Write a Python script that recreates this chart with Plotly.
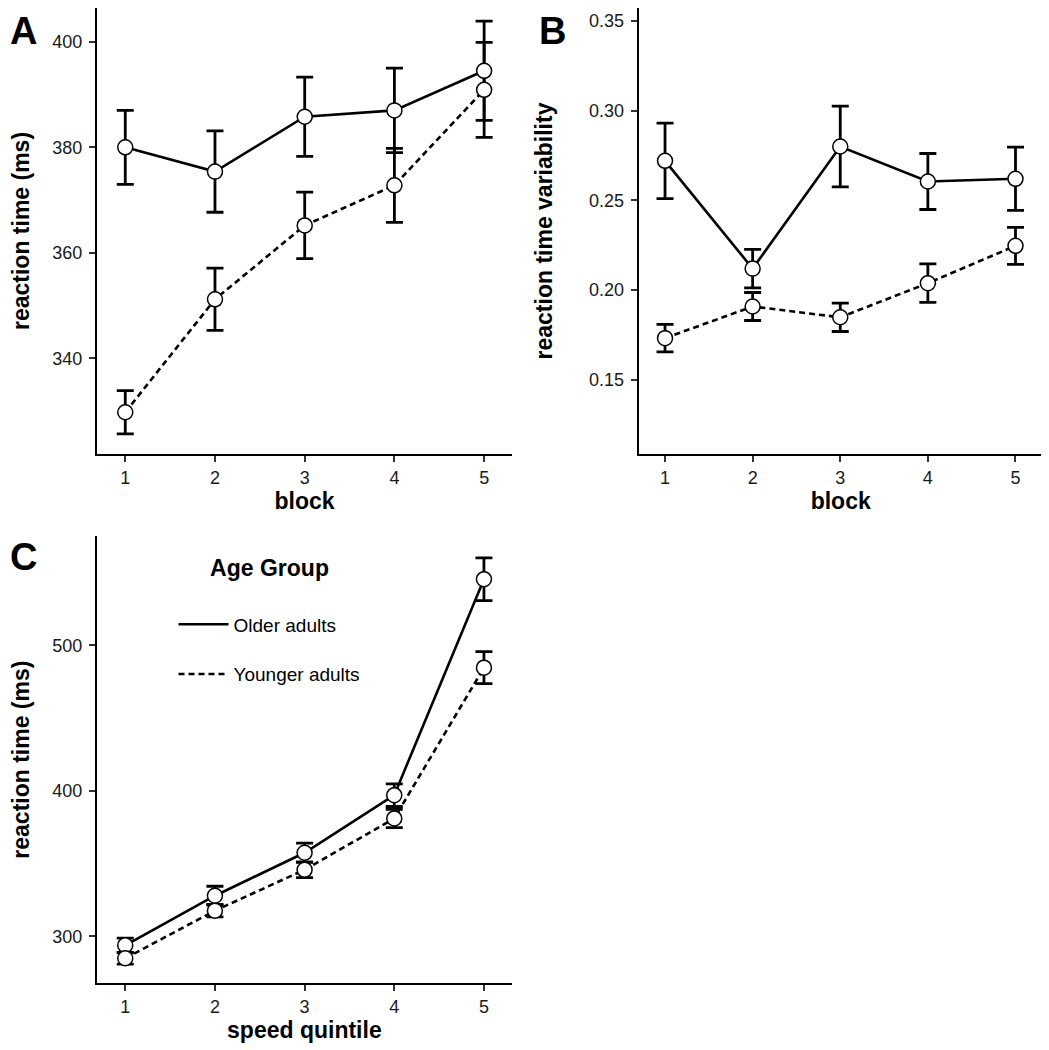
import plotly.graph_objects as go

# ---------------- data ----------------
blocks = [1, 2, 3, 4, 5]
quintiles = [1, 2, 3, 4, 5]
groups = ["Older adults", "Younger adults"]

rt_block_older = [380.0, 375.4, 385.8, 387.0, 394.5]
rt_block_older_se = [7.0, 7.7, 7.5, 8.0, 9.4]
rt_block_younger = [329.8, 351.2, 365.2, 372.8, 390.9]
rt_block_younger_se = [4.1, 5.9, 6.3, 7.0, 9.0]

var_block_older = [0.272, 0.212, 0.280, 0.2605, 0.262]
var_block_older_se = [0.021, 0.0107, 0.0225, 0.0156, 0.0176]
var_block_younger = [0.1733, 0.1909, 0.1849, 0.2039, 0.2247]
var_block_younger_se = [0.0077, 0.0078, 0.0079, 0.0107, 0.0103]

rt_quint_older = [293.8, 327.9, 357.4, 397.0, 545.4]
rt_quint_older_se = [5.0, 6.5, 6.6, 7.8, 14.7]
rt_quint_younger = [284.9, 317.6, 345.7, 381.0, 484.6]
rt_quint_younger_se = [4.0, 4.3, 5.4, 6.3, 11.0]

ticks_A = [340, 360, 380, 400]
ticks_B = [0.15, 0.20, 0.25, 0.30, 0.35]
ticks_B_text = ["0.15", "0.20", "0.25", "0.30", "0.35"]
ticks_C = [300, 400, 500]

# ---------------- styling ----------------
FONT = "Liberation Sans, Arial, sans-serif"
DASH = "6px,4px"
W, H = 1041, 1042  # page body has an 8px margin
fig = go.Figure()

panels = [
    ("x", "y", blocks, rt_block_older, rt_block_older_se, rt_block_younger, rt_block_younger_se),
    ("x2", "y2", blocks, var_block_older, var_block_older_se, var_block_younger, var_block_younger_se),
    ("x3", "y3", quintiles, rt_quint_older, rt_quint_older_se, rt_quint_younger, rt_quint_younger_se),
]

for xa, ya, xs, yo, eo, yy, ey in panels:
    for vals, dash in ((yo, "solid"), (yy, DASH)):
        fig.add_trace(go.Scatter(x=xs, y=vals, mode="lines", xaxis=xa, yaxis=ya,
                                 line=dict(color="black", width=2.6, dash=dash),
                                 showlegend=False, hoverinfo="skip"))
    for vals, err in ((yo, eo), (yy, ey)):
        fig.add_trace(go.Scatter(x=xs, y=vals, mode="markers", xaxis=xa, yaxis=ya,
                                 marker=dict(size=1, opacity=0),
                                 error_y=dict(type="data", array=err, visible=True,
                                              color="black", thickness=2.8, width=8.5),
                                 showlegend=False, hoverinfo="skip"))
    for vals in (yo, yy):
        fig.add_trace(go.Scatter(x=xs, y=vals, mode="markers", xaxis=xa, yaxis=ya,
                                 marker=dict(size=15, color="white",
                                             line=dict(color="black", width=1.5)),
                                 showlegend=False))

for name, dash in zip(groups, ("solid", DASH)):
    fig.add_trace(go.Scatter(x=[None], y=[None], mode="lines", xaxis="x3", yaxis="y3",
                             name=name, legendgroup=name,
                             line=dict(color="black", width=2.6, dash=dash)))

axis_common = dict(showgrid=False, zeroline=False, showline=True, linecolor="black",
                   linewidth=2, ticks="outside", ticklen=6, tickwidth=1.5,
                   tickcolor="#333333", tickfont=dict(family=FONT, size=18, color="#1a1a1a"),
                   automargin=False)
title_font = dict(family=FONT, size=23, color="black")
label_font = dict(family=FONT, size=38, color="black")

fig.update_layout(
    width=W, height=H,
    margin=dict(l=0, r=0, t=0, b=0),
    paper_bgcolor="white", plot_bgcolor="white",
    font=dict(family=FONT, color="black"),
    xaxis=dict(axis_common, domain=[0.0855, 0.4841], range=[0.685, 5.31],
               tickvals=blocks, anchor="y",
               title=dict(text="<b>block</b>", font=title_font, standoff=4)),
    yaxis=dict(axis_common, domain=[0.5720, 1.0], range=[321.9, 406.4],
               tickvals=ticks_A, anchor="x", ticklabelstandoff=3,
               title=dict(text="<b>reaction time (ms)</b>", font=title_font, standoff=34)),
    xaxis2=dict(axis_common, domain=[0.6059, 0.9939], range=[0.70, 5.31],
                tickvals=blocks, anchor="y2",
                title=dict(text="<b>block</b>", font=title_font, standoff=4)),
    yaxis2=dict(axis_common, domain=[0.5720, 1.0], range=[0.1088, 0.3571],
                tickvals=ticks_B, ticktext=ticks_B_text, anchor="x2", ticklabelstandoff=3,
                title=dict(text="<b>reaction time variability</b>", font=title_font, standoff=30)),
    xaxis3=dict(axis_common, domain=[0.0855, 0.4839], range=[0.685, 5.31],
                tickvals=quintiles, anchor="y3",
                title=dict(text="<b>speed quintile</b>", font=title_font, standoff=4)),
    yaxis3=dict(axis_common, domain=[0.0640, 0.4933], range=[267.7, 575.1],
                tickvals=ticks_C, anchor="x3", ticklabelstandoff=3,
                title=dict(text="<b>reaction time (ms)</b>", font=title_font, standoff=40)),
    legend=dict(x=0.159, y=0.484, xanchor="left", yanchor="top", itemwidth=50,
                bgcolor="rgba(0,0,0,0)", traceorder="grouped", tracegroupgap=22,
                font=dict(family=FONT, size=19, color="black"),
                title=dict(text="<b>Age Group</b><br>", side="top center",
                           font=dict(family=FONT, size=23, color="black"))),
    annotations=[
        dict(text="<b>A</b>", x=0, y=1, xref="paper", yref="paper",
             xanchor="left", yanchor="top", showarrow=False, font=label_font),
        dict(text="<b>B</b>", x=544 / W, y=1, xref="paper", yref="paper",
             xanchor="center", yanchor="top", showarrow=False, font=label_font),
        dict(text="<b>C</b>", x=0, y=1 - 549 / H, xref="paper", yref="paper",
             xanchor="left", yanchor="middle", showarrow=False, font=label_font),
    ],
)

fig.write_html("out.html")
